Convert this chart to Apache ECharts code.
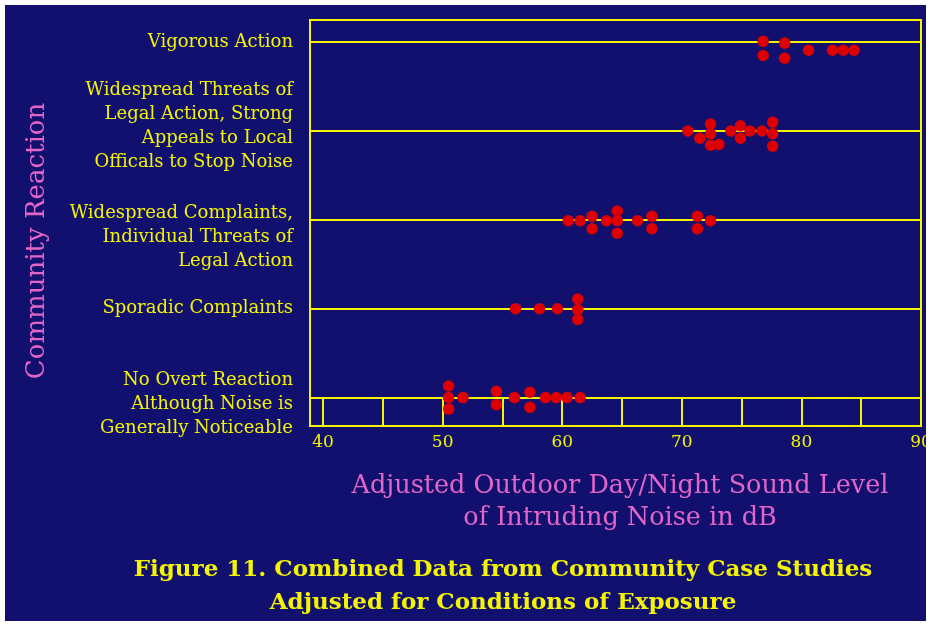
<!DOCTYPE html>
<html>
<head>
<meta charset="utf-8">
<script src="https://cdn.jsdelivr.net/npm/echarts@6/dist/echarts.min.js"></script>
<style>
html,body{margin:0;padding:0;background:#ffffff;width:931px;height:625px;overflow:hidden;}
#c{position:absolute;left:5px;top:5px;width:921px;height:616px;}
</style>
</head>
<body>
<div id="c"></div>
<script>
// Category labels (row value 0 = bottom line)
var categories = [
  'No Overt Reaction\nAlthough Noise is\nGenerally Noticeable',
  'Sporadic Complaints',
  'Widespread Complaints,\nIndividual Threats of\nLegal Action',
  'Widespread Threats of\nLegal Action, Strong\nAppeals to Local\nOfficals to Stop Noise',
  'Vigorous Action'
];
var xTicks = [40, 45, 50, 55, 60, 65, 70, 75, 80, 85, 90];
var xTickLabels = [40, 50, 60, 70, 80, 90];
var rowValues = [0, 1, 2, 3, 4];

// Data points: [dB level, row position (stacked dots sit slightly above/below the row line)]
var noOvertReaction = [
  [50.5, 0.13], [50.5, 0.0], [50.5, -0.13], [51.7, 0.0], [54.5, 0.07], [54.5, -0.08],
  [56.0, 0.0], [57.3, 0.06], [57.3, -0.11], [58.6, 0.0], [59.5, 0.0], [60.4, 0.0], [61.5, 0.0]
];
var sporadicComplaints = [
  [56.1, 1.0], [58.1, 1.0], [59.6, 1.0], [61.3, 1.11], [61.3, 0.99], [61.3, 0.88]
];
var widespreadComplaints = [
  [60.5, 1.99], [61.5, 1.99], [62.5, 2.04], [62.5, 1.9], [63.7, 1.99], [64.6, 2.1], [64.6, 1.99],
  [64.6, 1.85], [66.3, 1.99], [67.5, 2.04], [67.5, 1.9], [71.3, 2.04], [71.3, 1.9], [72.4, 1.99]
];
var widespreadThreats = [
  [70.5, 3.0], [71.5, 2.92], [72.4, 3.08], [72.4, 2.97], [72.4, 2.84], [73.1, 2.85], [74.1, 3.0],
  [74.9, 3.06], [74.9, 2.92], [75.7, 3.0], [76.7, 3.0], [77.6, 3.1], [77.6, 2.97], [77.6, 2.83]
];
var vigorousAction = [
  [76.8, 4.01], [76.8, 3.85], [78.6, 3.99], [78.6, 3.82], [80.6, 3.91], [82.6, 3.91], [83.5, 3.91], [84.4, 3.91]
];

var NAVY = '#11106e', YELLOW = '#f4f400', RED = '#dd0000', PINK = '#e265c8';
var SERIF = '"DejaVu Serif", "Liberation Serif", serif';

// vertical nudges of the left labels, in px (style only)
var labelShift = {0: 7, 1: 0, 2: 17, 3: -5, 4: 0};

function labelFormatter(v) {
  var idx = Math.round(v);
  var lines = categories[idx].split('\n').map(function (s) { return '{t|' + s + '}'; });
  var d = labelShift[idx] || 0;
  var txt = lines.join('\n');
  if (d > 0) txt = '{g' + (2 * d) + '|\u00a0}\n' + txt;
  else if (d < 0) txt = txt + '\n{g' + (-2 * d) + '|\u00a0}';
  return txt;
}
var rich = { t: { color: YELLOW, fontFamily: SERIF, fontSize: 18, lineHeight: 24, align: 'right' } };
Object.keys(labelShift).forEach(function (k) {
  var h = Math.abs(labelShift[k]) * 2;
  if (h) rich['g' + h] = { fontSize: 1, lineHeight: h };
});

var lineData = rowValues.map(function (v) { return { yAxis: v }; });
function mk(name, data, withLines) {
  var s = {
    name: name, type: 'scatter', data: data, symbol: 'circle', symbolSize: 11.5,
    itemStyle: { color: RED, opacity: 1 }, z: 5
  };
  if (withLines) {
    s.markLine = {
      silent: true, symbol: 'none', animation: false, label: { show: false },
      lineStyle: { color: YELLOW, width: 2, type: 'solid' }, data: lineData, z: 2
    };
  }
  return s;
}

var chart = echarts.init(document.getElementById('c'), null, { renderer: 'canvas' });
chart.setOption({
  backgroundColor: NAVY,
  animation: false,
  title: {
    text: 'Figure 11. Combined Data from Community Case Studies\nAdjusted for Conditions of Exposure',
    left: 493, top: 544, textAlign: 'center',
    textStyle: { color: YELLOW, fontFamily: SERIF, fontWeight: 'bold', fontSize: 23, lineHeight: 33 }
  },
  grid: {
    left: 305, right: 5, top: 15, bottom: 195, show: true, borderColor: YELLOW, borderWidth: 2,
    backgroundColor: 'transparent', containLabel: false, outerBoundsMode: 'none'
  },
  xAxis: {
    type: 'value', min: 38.91, max: 90,
    axisLine: { show: false, onZero: false },
    splitLine: { show: false },
    axisTick: { show: true, inside: true, length: 28, customValues: xTicks, lineStyle: { color: YELLOW, width: 2 } },
    axisLabel: { customValues: xTickLabels, color: YELLOW, fontFamily: SERIF, fontSize: 17, margin: 8 },
    name: 'Adjusted Outdoor Day/Night Sound Level\nof Intruding Noise in dB',
    nameLocation: 'middle', nameGap: 44,
    nameTextStyle: { color: PINK, fontFamily: SERIF, fontSize: 25.5, lineHeight: 32, padding: [0, 0, 0, 9] }
  },
  yAxis: {
    type: 'value', min: -0.32, max: 4.25,
    axisLine: { show: false, onZero: false },
    splitLine: { show: false },
    axisTick: { show: false },
    axisLabel: { customValues: rowValues, formatter: labelFormatter, rich: rich, margin: 17 },
    name: 'Community Reaction', nameLocation: 'middle', nameRotate: 90, nameGap: 260,
    nameTextStyle: { color: PINK, fontFamily: SERIF, fontSize: 26, padding: [0, 36, 0, 0] }
  },
  series: [
    mk('No Overt Reaction', noOvertReaction, true),
    mk('Sporadic Complaints', sporadicComplaints, false),
    mk('Widespread Complaints', widespreadComplaints, false),
    mk('Widespread Threats', widespreadThreats, false),
    mk('Vigorous Action', vigorousAction, false)
  ]
});
</script>
</body>
</html>
